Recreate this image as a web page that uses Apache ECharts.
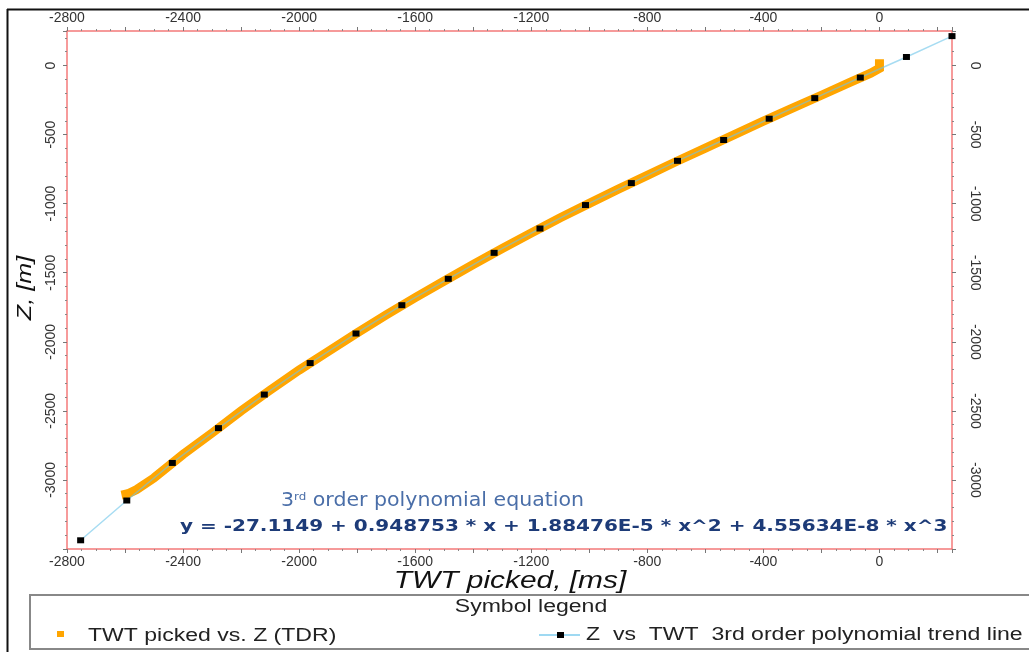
<!DOCTYPE html>
<html>
<head>
<meta charset="utf-8">
<script src="https://cdn.jsdelivr.net/npm/echarts@6/dist/echarts.min.js"></script>
<style>
html, body { margin: 0; padding: 0; background: #fff; }
#chart { width: 1029px; height: 652px; }
</style>
</head>
<body>
<div id="chart"></div>
<script>
// TWT picked vs. Z (TDR)
var tdrTwt = [0, 0, -30, -100, -200, -300, -400, -500, -600, -700, -800, -900, -1000, -1100, -1200, -1300,
    -1400, -1500, -1600, -1700, -1800, -1900, -2000, -2100, -2200, -2300, -2400, -2500, -2560, -2590, -2612];
var tdrZ = [45, -20, -55, -120, -215, -308, -403, -500, -598, -695, -795, -895, -998, -1102, -1212, -1325,
    -1440, -1560, -1680, -1805, -1935, -2070, -2205, -2350, -2500, -2660, -2815, -2985, -3070, -3100, -3110];

// Z vs TWT 3rd order polynomial trend line
var trendTwt = [250, 93, -66, -223, -380, -537, -696, -855, -1013, -1170, -1328, -1486, -1646, -1804,
    -1962, -2120, -2278, -2437, -2594, -2753];
var trendZ = [213, 62, -87, -236, -385, -539, -690, -851, -1010, -1180, -1356, -1544, -1735, -1940,
    -2154, -2382, -2625, -2877, -3149, -3437];

// tick labels
var xLabels = [-2800, -2400, -2000, -1600, -1200, -800, -400, 0];
var yLabels = [0, -500, -1000, -1500, -2000, -2500, -3000];

var tdrData = tdrTwt.map(function (t, i) { return [t, tdrZ[i]]; });
var trendData = trendTwt.map(function (t, i) { return [t, trendZ[i]]; });

var red = '#f47a7a';
var labelFont = 'Liberation Sans';

function xAxisCfg(pos) {
    return {
        type: 'value',
        position: pos,
        min: -2800,
        max: 250,
        interval: 200,
        axisLine: { show: true, onZero: false, lineStyle: { color: red, width: 1.5 } },
        axisTick: { show: true, length: 4, lineStyle: { color: '#777' } },
        minorTick: { show: true, splitNumber: 4, length: 2, lineStyle: { color: '#888' } },
        splitLine: { show: false },
        axisLabel: {
            margin: 6, fontSize: 14, color: '#333', fontFamily: labelFont,
            formatter: function (v) { return xLabels.indexOf(v) >= 0 ? String(v) : ''; }
        }
    };
}

function yAxisCfg(pos, rot, margin) {
    return {
        type: 'value',
        position: pos,
        min: -3500,
        max: 250,
        interval: 500,
        axisLine: { show: true, onZero: false, lineStyle: { color: red, width: 1.5 } },
        axisTick: { show: true, length: 4, lineStyle: { color: '#777' } },
        minorTick: { show: true, splitNumber: 5, length: 2, lineStyle: { color: '#888' } },
        splitLine: { show: false },
        axisLabel: {
            rotate: rot, margin: margin, fontSize: 14, color: '#333', fontFamily: labelFont,
            formatter: function (v) { return yLabels.indexOf(v) >= 0 ? String(v) : ''; }
        }
    };
}

var option = {
    animation: false,
    backgroundColor: '#fff',
    grid: { left: 67, right: 77, top: 31, height: 518, containLabel: false },
    xAxis: [xAxisCfg('bottom'), xAxisCfg('top')],
    yAxis: [yAxisCfg('left', 90, 9), yAxisCfg('right', -90, 16)],
    series: [
        {
            name: 'TWT picked vs. Z (TDR)',
            type: 'line',
            data: tdrData,
            symbol: 'none',
            lineStyle: { color: '#ffa500', width: 9, cap: 'butt', join: 'miter' },
            z: 2
        },
        {
            name: 'Z vs TWT 3rd order polynomial trend line',
            type: 'line',
            data: trendData,
            symbol: 'rect',
            symbolSize: [7, 6],
            showSymbol: true,
            itemStyle: { color: '#000' },
            lineStyle: { color: '#6cc4ea', width: 1.5, opacity: 0.6 },
            z: 3
        }
    ],
    graphic: [
        // outer frame
        { type: 'line', shape: { x1: 7, y1: 9.5, x2: 1029, y2: 9.5 }, style: { stroke: '#111', lineWidth: 2 } },
        { type: 'line', shape: { x1: 7.5, y1: 9, x2: 7.5, y2: 652 }, style: { stroke: '#111', lineWidth: 2 } },
        // axis names
        {
            type: 'text', x: 25, y: 288, rotation: Math.PI / 2, scaleX: 1.2,
            style: { text: 'Z, [m]', font: 'italic 21px "Liberation Sans"', fill: '#111',
                textAlign: 'center', textVerticalAlign: 'middle' }
        },
        {
            type: 'text', x: 510, y: 582, scaleX: 1.3,
            style: { text: 'TWT picked, [ms]', font: 'italic 23px "Liberation Sans"', fill: '#111',
                textAlign: 'center', textVerticalAlign: 'middle' }
        },
        // equation
        {
            type: 'text', x: 281, y: 501, scaleX: 1.08,
            style: {
                text: '{a|3}{b|rd}{a| order polynomial equation}',
                textAlign: 'left', textVerticalAlign: 'middle',
                rich: {
                    a: { fontSize: 19, fontFamily: 'DejaVu Sans', fill: '#4a6ea8', color: '#4a6ea8' },
                    b: { fontSize: 11, fontFamily: 'DejaVu Sans', fill: '#4a6ea8', color: '#4a6ea8', verticalAlign: 'top' }
                }
            }
        },
        {
            type: 'text', x: 180, y: 527, scaleX: 1.25,
            style: { text: 'y = -27.1149 + 0.948753 * x + 1.88476E-5 * x^2 + 4.55634E-8 * x^3',
                font: 'bold 16px "DejaVu Sans"', fill: '#1d3b78',
                textAlign: 'left', textVerticalAlign: 'middle' }
        },
        // legend box
        { type: 'rect', shape: { x: 30, y: 595, width: 1020, height: 54 }, style: { fill: 'none', stroke: '#888', lineWidth: 2 } },
        {
            type: 'text', x: 531, y: 607, scaleX: 1.28,
            style: { text: 'Symbol legend', font: '18px "Liberation Sans"', fill: '#222',
                textAlign: 'center', textVerticalAlign: 'middle' }
        },
        { type: 'rect', shape: { x: 57, y: 631, width: 7, height: 6 }, style: { fill: '#ffa500' } },
        {
            type: 'text', x: 88, y: 636, scaleX: 1.28,
            style: { text: 'TWT picked vs. Z (TDR)', font: '18px "Liberation Sans"', fill: '#222',
                textAlign: 'left', textVerticalAlign: 'middle' }
        },
        { type: 'line', shape: { x1: 539, y1: 635, x2: 580, y2: 635 }, style: { stroke: '#7fcdee', lineWidth: 1.5 } },
        { type: 'rect', shape: { x: 557, y: 632, width: 7, height: 6 }, style: { fill: '#000' } },
        {
            type: 'text', x: 586, y: 635, scaleX: 1.28,
            style: { text: 'Z  vs  TWT  3rd order polynomial trend line', font: '18px "Liberation Sans"', fill: '#222',
                textAlign: 'left', textVerticalAlign: 'middle' }
        }
    ]
};

var myChart = echarts.init(document.getElementById('chart'));
myChart.setOption(option);
</script>
</body>
</html>
